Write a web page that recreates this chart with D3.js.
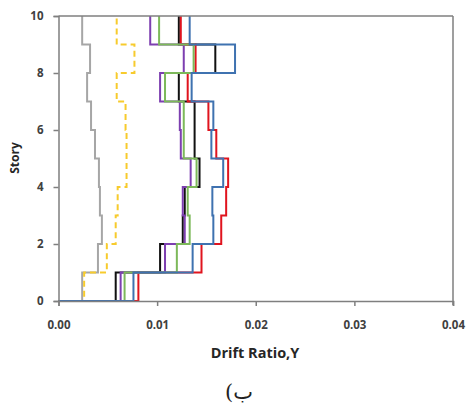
<!DOCTYPE html>
<html><head><meta charset="utf-8">
<script src="https://cdn.jsdelivr.net/npm/d3@7"></script>
<style>body{margin:0;background:#fff}svg{display:block}</style>
</head><body>
<svg id="c" width="467" height="407"></svg>
<script>
const stories = [1,2,3,4,5,6,7,8,9,10];
const xTicks = [0,0.01,0.02,0.03,0.04];
const yTicks = [0,2,4,6,8,10];
const gray   = [0.0024,0.0040,0.0044,0.0042,0.0041,0.0037,0.0033,0.0029,0.0032,0.0024];
const yellow = [0.0026,0.0049,0.0058,0.0060,0.0069,0.0069,0.0068,0.0059,0.0077,0.0059];
const black  = [0.0058,0.0103,0.0126,0.0128,0.0143,0.0138,0.0138,0.0122,0.0159,0.0122];
const red    = [0.0081,0.0145,0.0165,0.0170,0.0172,0.0160,0.0152,0.0131,0.0139,0.0124];
const purple = [0.0063,0.0108,0.0128,0.0126,0.0134,0.0124,0.0123,0.0103,0.0127,0.0093];
const green  = [0.0067,0.0120,0.0133,0.0131,0.0140,0.0127,0.0127,0.0108,0.0137,0.0102];
const blue   = [0.0076,0.0136,0.0157,0.0156,0.0167,0.0155,0.0157,0.0135,0.0179,0.0133];

const series = [
  {v: gray,   color: "#A6A6A6", dash: null},
  {v: yellow, color: "#F7CB2D", dash: "6,4"},
  {v: black,  color: "#111111", dash: null},
  {v: red,    color: "#E0141E", dash: null},
  {v: purple, color: "#7D3FB0", dash: null},
  {v: green,  color: "#7DB95A", dash: null},
  {v: blue,   color: "#3F72B0", dash: null}
];

const svg = d3.select("#c");
const x = d3.scaleLinear().domain([0,0.04]).range([58.5,453]);
const y = d3.scaleLinear().domain([0,10]).range([301,16]);

const line = d3.line().x(d=>x(d[0])).y(d=>y(d[1]));
series.forEach(s=>{
  const pts = [[0,0]];
  stories.forEach((st,i)=>{ pts.push([s.v[i], st-1]); pts.push([s.v[i], st]); });
  svg.append("path").attr("d", line(pts)).attr("fill","none")
    .attr("stroke", s.color).attr("stroke-width", 2)
    .attr("stroke-dasharray", s.dash);
});

const axisColor = "#7F7F7F";
svg.append("line").attr("x1",x(0)).attr("x2",x(0.04)).attr("y1",y(10)).attr("y2",y(10))
  .attr("stroke",axisColor).attr("stroke-width",1.5);
svg.append("line").attr("x1",x(0.04)).attr("x2",x(0.04)).attr("y1",y(10)).attr("y2",y(0)+4)
  .attr("stroke",axisColor).attr("stroke-width",1.5);

const gx = svg.append("g").attr("transform",`translate(0,${y(0)})`)
  .call(d3.axisBottom(x).tickValues(xTicks).tickFormat(d3.format(".2f")).tickSize(5).tickPadding(15));
const gy = svg.append("g").attr("transform",`translate(${x(0)},0)`)
  .call(d3.axisLeft(y).tickValues(yTicks).tickFormat(d3.format("d")).tickSize(5).tickPadding(10));
[gx,gy].forEach(g=>{
  g.select(".domain").attr("stroke",axisColor).attr("stroke-width",1.5);
  g.selectAll(".tick line").attr("stroke",axisColor).attr("stroke-width",1.5);
  g.selectAll(".tick text").attr("fill","#404040").attr("font-family","Open Sans")
    .attr("font-weight","bold").attr("font-size",11.5);
});

svg.append("text").attr("x",255).attr("y",358).attr("text-anchor","middle")
  .attr("font-family","Open Sans").attr("font-weight","bold").attr("font-size",14.5)
  .attr("fill","#262626").text("Drift Ratio,Y");
svg.append("text").attr("transform","translate(19,158) rotate(-90)").attr("text-anchor","middle")
  .attr("font-family","Open Sans").attr("font-weight","bold").attr("font-size",12)
  .attr("fill","#262626").text("Story");
svg.append("text").attr("x",239).attr("y",399).attr("text-anchor","middle")
  .attr("font-family","DejaVu Serif, DejaVu Sans").attr("font-size",21)
  .attr("fill","#222").text("(ب");
</script>
</body></html>
